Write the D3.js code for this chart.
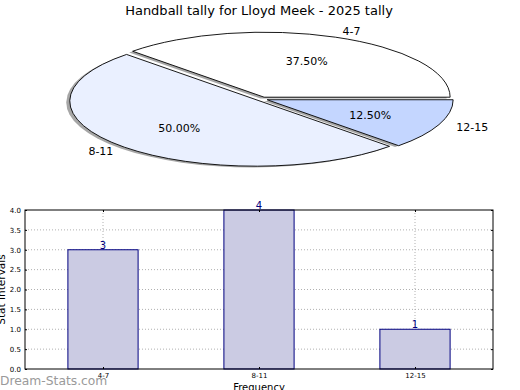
<!DOCTYPE html>
<html>
<head>
<meta charset="utf-8">
<script src="https://cdn.jsdelivr.net/npm/d3@7"></script>
<style>
  body { margin: 0; background: #fff; }
  text { font-family: "DejaVu Sans", sans-serif; }
</style>
</head>
<body>
<div id="chart-area"></div>
<script>
// Data
var categories = ["4-7", "8-11", "12-15"]
var counts = [3, 4, 1]
var pieColors = ["#ffffff", "#eaf0ff", "#c4d6ff"]
var yTicks = [0, 0.5, 1, 1.5, 2, 2.5, 3, 3.5, 4]

var width = 520, height = 390

var svg = d3.select("#chart-area")
    .append("svg")
        .attr("width", width)
        .attr("height", height)

// Title
svg.append("text")
    .attr("x", 259)
    .attr("y", 15)
    .attr("text-anchor", "middle")
    .attr("font-size", 13)
    .text("Handball tally for Lloyd Meek - 2025 tally")

// ---- Pie (elliptical, exploded, with shadow) ----
var cx = 262, cy = 99, rx = 186, ry = 65
var explode = 0.03
var total = d3.sum(counts)

// matplotlib starts at 3 o'clock going counter-clockwise
var pie = d3.pie().sort(null)
    .startAngle(Math.PI / 2)
    .endAngle(Math.PI / 2 - 2 * Math.PI)
var arcs = pie(counts)
var arc = d3.arc().innerRadius(0).outerRadius(1)

var pg = svg.append("g")

function offset(d, dist) {
    var a = (d.startAngle + d.endAngle) / 2
    return [Math.sin(a) * dist, -Math.cos(a) * dist]
}

// shadows
arcs.forEach(function(d) {
    var o = offset(d, explode)
    pg.append("path")
        .attr("d", arc(d))
        .attr("transform", "translate(" + (cx + o[0] * rx - 3.5) + "," + (cy + o[1] * ry + 1.3) + ") scale(" + rx + "," + ry + ")")
        .attr("fill", "#4d4d4d")
        .attr("fill-opacity", 0.5)
})

// wedges
arcs.forEach(function(d, i) {
    var o = offset(d, explode)
    pg.append("path")
        .attr("d", arc(d))
        .attr("transform", "translate(" + (cx + o[0] * rx) + "," + (cy + o[1] * ry) + ") scale(" + rx + "," + ry + ")")
        .attr("fill", pieColors[i])
        .attr("stroke", "#000")
        .attr("stroke-width", 0.9)
        .attr("vector-effect", "non-scaling-stroke")
})

// labels
arcs.forEach(function(d, i) {
    var o = offset(d, explode)
    var l = offset(d, 1.1)
    var p = offset(d, 0.6)
    pg.append("text")
        .attr("x", cx + (o[0] + l[0]) * rx)
        .attr("y", cy + (o[1] + l[1]) * ry)
        .attr("dy", "0.35em")
        .attr("text-anchor", l[0] >= 0 ? "start" : "end")
        .attr("font-size", 11)
        .text(categories[i])
    pg.append("text")
        .attr("x", cx + (o[0] + p[0]) * rx)
        .attr("y", cy + (o[1] + p[1]) * ry)
        .attr("dy", "0.35em")
        .attr("text-anchor", "middle")
        .attr("font-size", 11)
        .text((counts[i] / total * 100).toFixed(2) + "%")
})

// ---- Bar chart ----
var margin = {left: 25, top: 210, right: 27, bottom: 21}
var bw = width - margin.left - margin.right,
    bh = height - margin.top - margin.bottom

var g = svg.append("g")
    .attr("transform", "translate(" + margin.left + ", " + margin.top + ")")

var x = d3.scaleLinear().domain([-0.5, 2.5]).range([0, bw])
var y = d3.scaleLinear().domain([0, 4]).range([bh, 0])
var barW = 0.45

// gridlines
g.selectAll(".hgrid").data(yTicks.slice(1, -1)).enter()
    .append("line")
    .attr("x1", 0).attr("x2", bw)
    .attr("y1", d => y(d)).attr("y2", d => y(d))
    .attr("stroke", "#b0b0b0")
    .attr("stroke-dasharray", "1,2")
g.selectAll(".vgrid").data(categories).enter()
    .append("line")
    .attr("x1", (d, i) => x(i)).attr("x2", (d, i) => x(i))
    .attr("y1", 0).attr("y2", bh)
    .attr("stroke", "#b0b0b0")
    .attr("stroke-dasharray", "1,2")

// bars
g.selectAll("rect").data(counts).enter()
    .append("rect")
    .attr("x", (d, i) => x(i - barW / 2))
    .attr("y", d => y(d))
    .attr("width", x(barW) - x(0))
    .attr("height", d => bh - y(d))
    .attr("fill", "#cbcbe3")
    .attr("stroke", "#000080")
    .attr("stroke-width", 1)

// value labels
g.selectAll(".val").data(counts).enter()
    .append("text")
    .attr("x", (d, i) => x(i))
    .attr("y", d => y(d) - 1)
    .attr("text-anchor", "middle")
    .attr("font-size", 10)
    .attr("fill", "#000080")
    .text(d => d)

// axes
var yAxisCall = d3.axisLeft(y).tickValues(yTicks).tickFormat(d3.format(".1f"))
    .tickSizeInner(-2).tickSizeOuter(0).tickPadding(4)
g.append("g").call(yAxisCall)
var yRight = d3.axisRight(y).tickValues(yTicks).tickFormat("")
    .tickSizeInner(-2).tickSizeOuter(0)
g.append("g").attr("transform", "translate(" + bw + ",0)").call(yRight)
var xAxisCall = d3.axisBottom(x).tickValues([0, 1, 2]).tickFormat(i => categories[i])
    .tickSizeInner(-2).tickSizeOuter(0).tickPadding(4)
g.append("g").attr("transform", "translate(0," + bh + ")").call(xAxisCall)
var xTop = d3.axisTop(x).tickValues([0, 1, 2]).tickFormat("")
    .tickSizeInner(-2).tickSizeOuter(0)
g.append("g").call(xTop)

g.selectAll(".tick text").attr("font-size", 7).attr("font-family", "DejaVu Sans")
g.selectAll(".domain").remove()
g.append("rect")
    .attr("width", bw).attr("height", bh)
    .attr("fill", "none").attr("stroke", "#000").attr("stroke-width", 1)

// axis labels
g.append("text")
    .attr("x", bw / 2)
    .attr("y", bh + 22)
    .attr("text-anchor", "middle")
    .attr("font-size", 10)
    .text("Frequency")
g.append("text")
    .attr("transform", "rotate(-90)")
    .attr("x", -bh / 2)
    .attr("y", -20)
    .attr("text-anchor", "middle")
    .attr("font-size", 10.5)
    .text("Stat Intervals")

// watermark
svg.append("text")
    .attr("x", 0)
    .attr("y", 385)
    .attr("font-size", 12.3)
    .attr("fill", "#9a9a9a")
    .text("Dream-Stats.com")
</script>
</body>
</html>
